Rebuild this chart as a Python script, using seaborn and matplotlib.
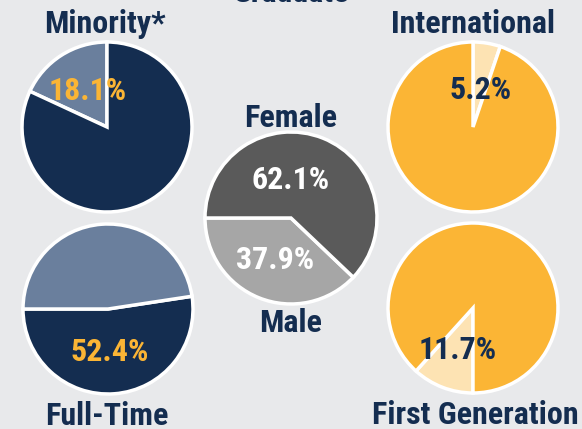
import matplotlib
matplotlib.use('Agg')
import matplotlib.pyplot as plt
import seaborn as sns

# chart data
titles = ['Minority*', 'International', 'Full-Time', 'First Generation']
shares = [18.1, 5.2, 52.4, 11.7]
gender_labels = ['Male', 'Female']
gender_shares = [37.9, 62.1]

NAVY = '#142D50'
SLATE = '#6A7F9D'
ORANGE = '#FBB535'
CREAM = '#FDE3B3'
DARK_GRAY = '#5A5A5A'
LIGHT_GRAY = '#A6A6A6'
BG = '#E8E9EB'

sns.set_theme(style='white')
plt.rcParams['font.family'] = ['Roboto Condensed', 'DejaVu Sans']

W, H = 582, 429
FS = 23
fig = plt.figure(figsize=(W / 100, H / 100), dpi=100, facecolor=BG)
ax = fig.add_axes([0, 0, 1, 1])
ax.set_facecolor(BG)


def py(y):
    # image-style y (from top) to data y
    return H - y


wedge_style = dict(edgecolor='white', linewidth=2.5)
R = 85

# small pies: (value slice first, rest second)
pie_specs = [
    # center, colors, startangle, counterclock, label pos, label color, title pos
    ((107, 127), [SLATE, NAVY], 90, True, (88, 91), ORANGE, (105, 33)),
    ((473, 127), [CREAM, ORANGE], 90, False, (481, 90), NAVY, (473, 33)),
    ((108, 309), [NAVY, SLATE], 180, True, (110, 352), ORANGE, (107, 425)),
    ((473, 308), [CREAM, ORANGE], 270, False, (458, 350), NAVY, (475, 424)),
]

for title, val, spec in zip(titles, shares, pie_specs):
    (cx, cy), cols, start, ccw, (lx, ly), lcol, (tx, ty) = spec
    ax.pie([val, 100 - val], colors=cols, startangle=start, counterclock=ccw,
           center=(cx, py(cy)), radius=R, wedgeprops=wedge_style, frame=True)
    ax.text(lx, py(ly), f'{val:.1f}%', ha='center', va='center',
            fontsize=FS, fontweight='bold', color=lcol)
    ax.text(tx, py(ty), title, ha='center', va='baseline',
            fontsize=FS, fontweight='bold', color=NAVY)

# gender pie
ax.pie(gender_shares, colors=[LIGHT_GRAY, DARK_GRAY], startangle=180,
       counterclock=True, center=(291, py(218)), radius=86,
       wedgeprops=wedge_style, frame=True)
ax.text(291, py(180), f'{gender_shares[1]:.1f}%', ha='center', va='center',
        fontsize=FS, fontweight='bold', color='white')
ax.text(275, py(260), f'{gender_shares[0]:.1f}%', ha='center', va='center',
        fontsize=FS, fontweight='bold', color='white')
ax.text(291, py(127), gender_labels[1], ha='center', va='baseline',
        fontsize=FS, fontweight='bold', color=NAVY)
ax.text(291, py(332), gender_labels[0], ha='center', va='baseline',
        fontsize=FS, fontweight='bold', color=NAVY)

# cut-off heading at the top
ax.text(291, py(2), 'Graduate', ha='center', va='baseline',
        fontsize=FS, fontweight='bold', color=NAVY)

ax.set_xlim(0, W)
ax.set_ylim(0, H)
ax.axis('off')

fig.savefig('out.png', dpi=100, facecolor=BG)
